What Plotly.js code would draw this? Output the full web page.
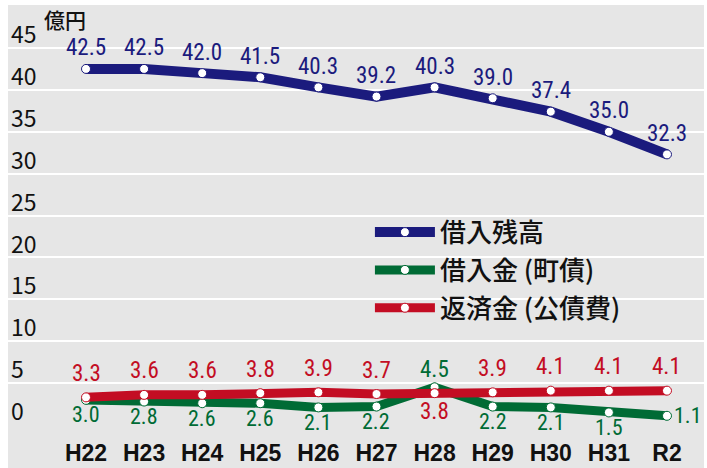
<!DOCTYPE html>
<html>
<head>
<meta charset="utf-8">
<script src="https://cdn.plot.ly/plotly-3.0.1.min.js"></script>
<style>html,body{margin:0;padding:0;background:#fff}#chart{width:707px;height:468px}</style>
</head>
<body>
<div id="chart"></div>
<script>
var categories = ["H22","H23","H24","H25","H26","H27","H28","H29","H30","H31","R2"];
var balance   = [42.5, 42.5, 42.0, 41.5, 40.3, 39.2, 40.3, 39.0, 37.4, 35.0, 32.3];
var borrowing = [3.0, 2.8, 2.6, 2.6, 2.1, 2.2, 4.5, 2.2, 2.1, 1.5, 1.1];
var repayment = [3.3, 3.6, 3.6, 3.8, 3.9, 3.7, 3.8, 3.9, 4.1, 4.1, 4.1];
var seriesNames = ["借入残高", "借入金 (町債)", "返済金 (公債費)"];
var yTicks = [0, 5, 10, 15, 20, 25, 30, 35, 40, 45];
var unitLabel = "億円";

var FONT = "Noto Sans CJK JP, Noto Sans, sans-serif";
var NUMFONT = "Liberation Sans Narrow, Roboto Condensed, DejaVu Sans Condensed, Liberation Sans, sans-serif";
var cBlue = "#1b1b7d", cGreen = "#006b35", cRed = "#c30d23";

function trace(name, ys, color, lw) {
  return {
    type: "scatter", mode: "lines+markers", name: name,
    x: categories, y: ys, legendgroup: name,
    line: {color: color, width: lw},
    marker: {size: 9, color: "#ffffff", line: {color: color, width: 1}},
    cliponaxis: false, hoverinfo: "skip"
  };
}
var data = [
  trace(seriesNames[0], balance, cBlue, 10),
  trace(seriesNames[1], borrowing, cGreen, 9),
  trace(seriesNames[2], repayment, cRed, 9)
];

var annotations = [];
function lab(x, y, color, yshift, xshift, size) {
  annotations.push({x: x, y: y, xref: "x", yref: "y", text: y.toFixed(1),
    showarrow: false, yshift: yshift, xshift: xshift || 0,
    font: {family: NUMFONT, size: size || 23, color: color}});
}
var last = categories.length - 1;
categories.forEach(function (c, i) {
  lab(c, balance[i], cBlue, 21);
  var greenHigh = borrowing[i] > repayment[i];
  lab(c, repayment[i], cRed, greenHigh ? -18 : 24);
  if (greenHigh) lab(c, borrowing[i], cGreen, 18);
  else if (i === last) lab(c, borrowing[i], cGreen, 0, 21, 22);
  else lab(c, borrowing[i], cGreen, -15, 0, 22);
});
annotations.push({xref: "paper", yref: "paper", x: 34/696, y: 1 - 14/463,
  xanchor: "left", yanchor: "middle", text: unitLabel, showarrow: false,
  font: {family: FONT, size: 21, color: "#111", weight: 500}});

var layout = {
  width: 707, height: 468,
  margin: {l: 8, r: 3, t: 5, b: 0},
  paper_bgcolor: "#ffffff", plot_bgcolor: "#e6e6e6",
  showlegend: true,
  legend: {x: 0.52, y: 0.56, xanchor: "left", yanchor: "top",
    bgcolor: "rgba(0,0,0,0)", itemwidth: 60, tracegroupgap: 1,
    traceorder: "grouped",
    font: {family: FONT, size: 26, color: "#111", weight: 500}},
  xaxis: {type: "category", range: [-1.3425, 10.637], showgrid: false,
    zeroline: false, showline: false, ticks: "",
    ticklabelposition: "inside", ticklabelstandoff: -1,
    tickfont: {family: "Liberation Sans, sans-serif", size: 23, color: "#111", weight: "bold"}},
  yaxis: {range: [-5.13, 50.13], tickvals: yTicks, ticktext: yTicks.map(String),
    showgrid: true, gridcolor: "#ffffff", gridwidth: 2,
    zeroline: true, zerolinecolor: "#e6e6e6", zerolinewidth: 2,
    showline: false, ticks: "",
    ticklabelposition: "inside", ticklabelshift: -13,
    tickfont: {family: FONT, size: 23, color: "#111"}},
  annotations: annotations
};

Plotly.newPlot("chart", data, layout, {staticPlot: true, displayModeBar: false});
</script>
</body>
</html>
